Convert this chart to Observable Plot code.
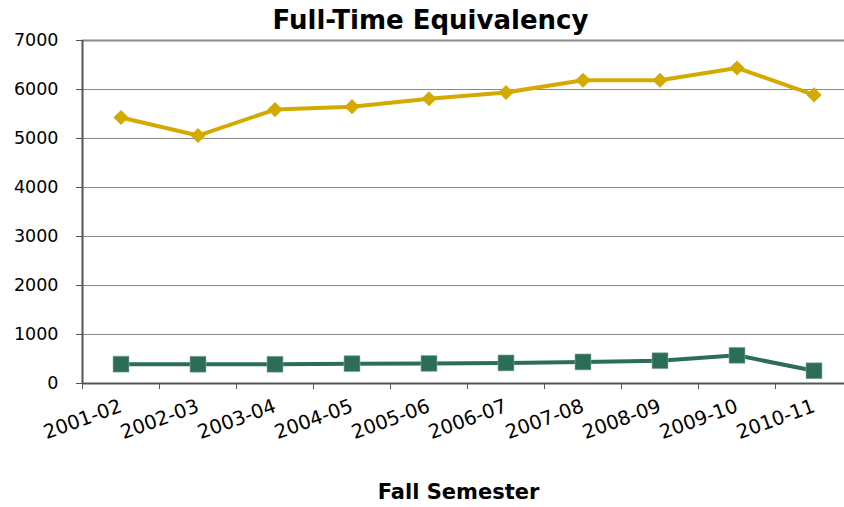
<!DOCTYPE html>
<html>
<head>
<meta charset="utf-8">
<script src="https://cdn.jsdelivr.net/npm/d3@7"></script>
<script src="https://cdn.jsdelivr.net/npm/@observablehq/plot@0.6"></script>
<style>
  body { margin: 0; background: #fff; }
  #chart svg { font-family: "DejaVu Sans", Verdana, sans-serif; display: block; }
</style>
</head>
<body>
<div id="chart"></div>
<script>
const semesters = ["2001-02", "2002-03", "2003-04", "2004-05", "2005-06", "2006-07", "2007-08", "2008-09", "2009-10", "2010-11"];
const totalFTE = [5430, 5060, 5590, 5650, 5810, 5940, 6190, 6190, 6440, 5890];
const otherFTE = [395, 393, 393, 405, 410, 420, 440, 465, 575, 260];
const yTicks = [0, 1000, 2000, 3000, 4000, 5000, 6000, 7000];
const chartTitle = "Full-Time Equivalency";
const xTitle = "Fall Semester";

const rows = (vals) => semesters.map((c, i) => ({ pos: i + 0.5, cat: c, v: vals[i] }));
const goldRows = rows(totalFTE);
const greenRows = rows(otherFTE);
const boundaries = d3.range(0, semesters.length);
const centers = semesters.map((c, i) => i + 0.5);

const gold = "#D4AA00";
const green = "#2C6D56";
const axisColor = "#555555";

const chart = Plot.plot({
  width: 844,
  height: 507,
  marginTop: 40,
  marginBottom: 124,
  marginLeft: 82,
  marginRight: 0,
  style: { fontFamily: "DejaVu Sans, Verdana, sans-serif", background: "#fff", overflow: "hidden" },
  x: { domain: [0, semesters.length], range: [82, 852], axis: null },
  y: { domain: [0, 7000], range: [383, 40], axis: null },
  marks: [
    Plot.gridY(yTicks, { stroke: "#888", strokeOpacity: 1, strokeWidth: 1 }),
    Plot.ruleY([7000], { stroke: "#888", strokeWidth: 2 }),
    Plot.axisY(yTicks, { label: null, tickSize: 6, tickPadding: 18, fontSize: 17.5, stroke: axisColor, fill: "#000", tickFormat: d => String(d) }),
    Plot.axisX(boundaries, { label: null, tickSize: 6, tickFormat: () => "", stroke: axisColor }),
    Plot.axisX(centers, { label: null, tickSize: 0, tickPadding: 22, tickRotate: -20, fontSize: 19.5, fill: "#000", tickFormat: d => semesters[Math.floor(d)] }),
    Plot.ruleX([0], { stroke: axisColor, strokeWidth: 2 }),
    Plot.ruleY([0], { stroke: axisColor, strokeWidth: 2 }),
    Plot.line(goldRows, { x: "pos", y: "v", stroke: gold, strokeWidth: 4 }),
    Plot.dot(goldRows, { x: "pos", y: "v", symbol: "diamond2", r: 6.8, fill: gold, stroke: "none" }),
    Plot.line(greenRows, { x: "pos", y: "v", stroke: green, strokeWidth: 4 }),
    Plot.dot(greenRows, { x: "pos", y: "v", symbol: "square", r: 9, fill: green, stroke: "#8fb3a5", strokeWidth: 0.6 }),
    Plot.text([chartTitle], { frameAnchor: "top", dy: -20, dx: -33, fontSize: 26, fontWeight: "bold", fill: "#000", lineAnchor: "middle" }),
    Plot.text([xTitle], { frameAnchor: "bottom", dy: 109, dx: -5, fontSize: 21, fontWeight: "bold", fill: "#000", lineAnchor: "middle" })
  ]
});
document.getElementById("chart").appendChild(chart);
</script>
</body>
</html>
